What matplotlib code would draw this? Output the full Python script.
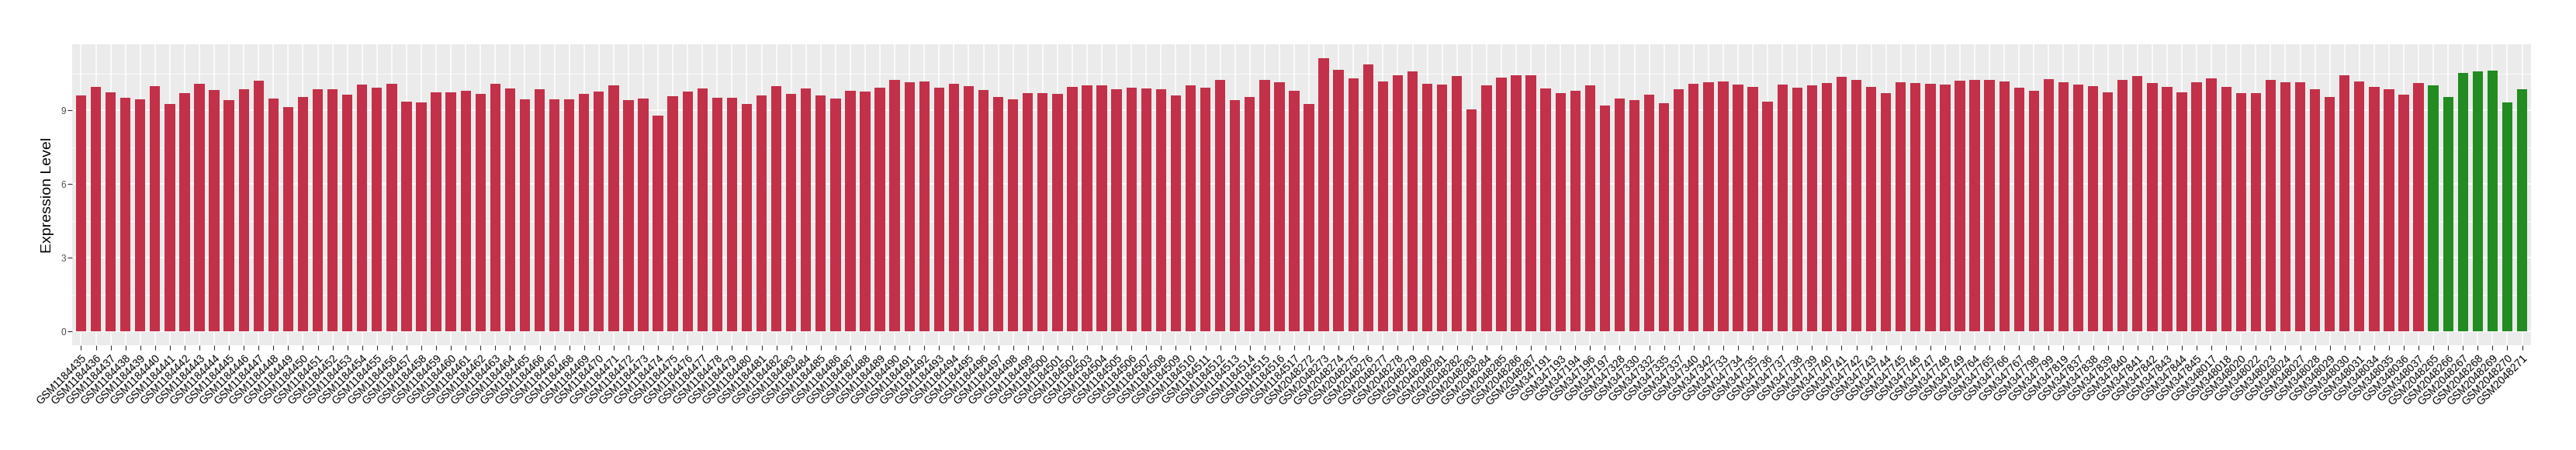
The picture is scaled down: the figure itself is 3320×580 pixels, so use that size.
import numpy as np
import matplotlib
matplotlib.use("Agg")
import matplotlib.pyplot as plt

# sample ids, in plotting order
gsm_1184 = ["GSM%d" % i for i in range(1184435, 1184518)]
gsm_2048a = ["GSM%d" % i for i in range(2048272, 2048288)]
gsm_347 = ["GSM347191", "GSM347193", "GSM347194", "GSM347196", "GSM347197",
           "GSM347328", "GSM347330", "GSM347332", "GSM347335", "GSM347337",
           "GSM347340", "GSM347342"] + ["GSM%d" % i for i in range(347733, 347750)] + \
          ["GSM347764", "GSM347765", "GSM347766", "GSM347767", "GSM347798",
           "GSM347799", "GSM347819"] + ["GSM%d" % i for i in range(347837, 347846)] + \
          ["GSM348017", "GSM348018", "GSM348020", "GSM348022", "GSM348023",
           "GSM348024", "GSM348027", "GSM348028", "GSM348029", "GSM348030",
           "GSM348031", "GSM348034", "GSM348035", "GSM348036", "GSM348037"]
gsm_2048b = ["GSM%d" % i for i in range(2048265, 2048272)]

# expression values
vals_1184 = [9.61, 9.96, 9.73, 9.51, 9.45, 9.99, 9.26, 9.70, 10.09, 9.83,
             9.41, 9.86, 10.21, 9.48, 9.13, 9.54, 9.86, 9.86, 9.64, 10.05,
             9.93, 10.09, 9.35, 9.32, 9.73, 9.73, 9.80, 9.67, 10.09, 9.89,
             9.45, 9.86, 9.45, 9.45, 9.67, 9.77, 10.02, 9.41, 9.48, 8.78,
             9.57, 9.77, 9.89, 9.51, 9.51, 9.26, 9.61, 9.99, 9.67, 9.89,
             9.61, 9.48, 9.80, 9.77, 9.93, 10.24, 10.15, 10.18, 9.93, 10.09,
             9.99, 9.83, 9.54, 9.45, 9.70, 9.70, 9.67, 9.96, 10.02, 10.02,
             9.86, 9.93, 9.89, 9.86, 9.61, 10.02, 9.93, 10.24, 9.41, 9.54,
             10.24, 10.15, 9.80]
vals_2048a = [9.26, 11.14, 10.66, 10.31, 10.88, 10.18, 10.44, 10.60, 10.09, 10.05,
              10.40, 9.03, 10.02, 10.34, 10.44, 10.44]
vals_347 = [9.89, 9.70, 9.80, 10.02, 9.19, 9.48, 9.41, 9.64, 9.29, 9.86,
            10.09, 10.15, 10.18, 10.05, 9.96, 9.35, 10.05, 9.93, 10.02, 10.12,
            10.37, 10.24, 9.96, 9.70, 10.15, 10.12, 10.09, 10.05, 10.21, 10.24,
            10.24, 10.18, 9.93, 9.80, 10.28, 10.15, 10.05, 9.99, 9.73, 10.24,
            10.40, 10.12, 9.96, 9.73, 10.15, 10.31, 9.96, 9.70, 9.70, 10.24,
            10.15, 10.15, 9.86, 9.54, 10.44, 10.18, 9.96, 9.86, 9.64, 10.12]
vals_2048b = [10.02, 9.54, 10.53, 10.60, 10.63, 9.32, 9.86]

samples = gsm_1184 + gsm_2048a + gsm_347 + gsm_2048b
values = vals_1184 + vals_2048a + vals_347 + vals_2048b
groups = ["A"] * (len(samples) - len(gsm_2048b)) + ["B"] * len(gsm_2048b)
group_colors = {"A": "#C23149", "B": "#228B22"}

plt.rcParams['font.family'] = ['Liberation Sans', 'DejaVu Sans']

fig = plt.figure(figsize=(33.2, 5.8), dpi=100)
ax = fig.add_axes([93 / 3320, 1 - 445 / 580, (3262 - 93) / 3320, (445 - 57) / 580])

x = np.arange(len(samples))
ax.set_facecolor("#EBEBEB")
ax.set_axisbelow(True)
ax.bar(x, values, width=0.7, color=[group_colors[g] for g in groups], zorder=2)

ymax = max(values)
ax.set_ylim(-0.05 * ymax, 1.05 * ymax)
ax.set_xlim(-0.6, len(samples) - 0.4)

ax.set_yticks([0, 3, 6, 9])
ax.set_yticks([1.5, 4.5, 7.5, 10.5], minor=True)
ax.grid(which="major", color="white", linewidth=1.1)
ax.grid(which="minor", axis="y", color="white", linewidth=0.55)
for s in ax.spines.values():
    s.set_visible(False)

ax.set_xticks(x)
ax.set_xticklabels(samples, rotation=45, ha="right", rotation_mode="anchor",
                   fontsize=10, color="black")
ax.tick_params(axis="both", which="major", length=4, width=0.8, color="#333333")
ax.tick_params(axis="x", pad=3)
ax.tick_params(axis="y", labelsize=8.5, labelcolor="#4D4D4D", pad=2)
ax.tick_params(which="minor", length=0)

ax.set_ylabel("Expression Level", fontsize=14, labelpad=6)

fig.savefig("out.png", dpi=100)
